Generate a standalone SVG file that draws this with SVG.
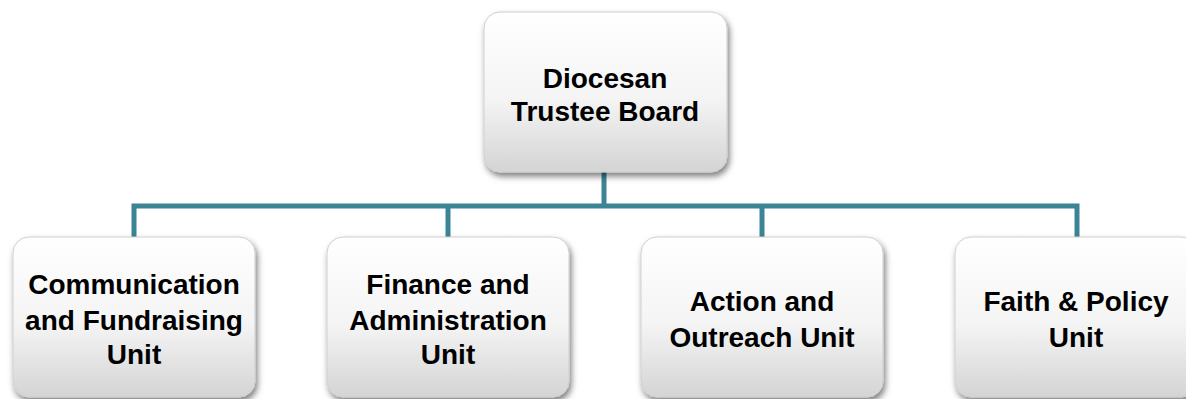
<svg xmlns="http://www.w3.org/2000/svg" width="1186" height="399" viewBox="0 0 1186 399">
<defs>
<linearGradient id="g" x1="0" y1="0" x2="0" y2="1">
<stop offset="0" stop-color="#ffffff"/>
<stop offset="0.55" stop-color="#f4f4f4"/>
<stop offset="1" stop-color="#d4d4d4"/>
</linearGradient>
<filter id="sh" x="-10%" y="-10%" width="125%" height="130%">
<feDropShadow dx="2" dy="4" stdDeviation="3" flood-color="#000" flood-opacity="0.5"/>
</filter>
</defs>
<style>
.box{fill:url(#g);stroke:#cfcfcf;stroke-width:1;filter:url(#sh)}
.t{font-family:"Liberation Sans",Arial,sans-serif;font-weight:bold;font-size:28px;fill:#000;text-anchor:middle}
.c{fill:none;stroke:#3a8496;stroke-width:5}
</style>
<g id="connectors">
<path class="c" d="M604 172V206"/>
<path class="c" d="M134 237V206H1077V237"/>
<path class="c" d="M448 206V237"/>
<path class="c" d="M762 206V237"/>
</g>
<g id="board">
<rect class="box" x="484" y="12" width="243" height="160" rx="16"/>
<text class="t" x="605" y="88">Diocesan</text>
<text class="t" x="605" y="121">Trustee Board</text>
</g>
<g id="comm">
<rect class="box" x="13" y="237" width="242" height="160" rx="16"/>
<text class="t" x="134" y="294">Communication</text>
<text class="t" x="134" y="330">and Fundraising</text>
<text class="t" x="134" y="364">Unit</text>
</g>
<g id="finance">
<rect class="box" x="327" y="237" width="242" height="160" rx="16"/>
<text class="t" x="448" y="294">Finance and</text>
<text class="t" x="448" y="330">Administration</text>
<text class="t" x="448" y="364">Unit</text>
</g>
<g id="action">
<rect class="box" x="641" y="237" width="242" height="160" rx="16"/>
<text class="t" x="762" y="311">Action and</text>
<text class="t" x="762" y="347">Outreach Unit</text>
</g>
<g id="faith">
<rect class="box" x="955" y="237" width="242" height="160" rx="16"/>
<text class="t" x="1076" y="311">Faith &amp; Policy</text>
<text class="t" x="1076" y="347">Unit</text>
</g>
</svg>
